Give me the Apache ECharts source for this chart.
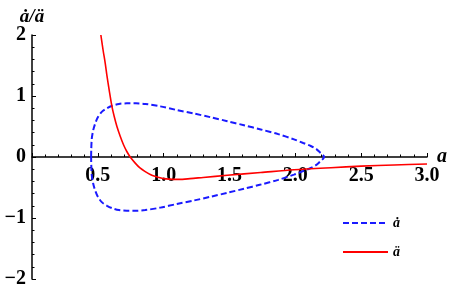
<!DOCTYPE html>
<html>
<head>
<meta charset="utf-8">
<script src="https://cdn.jsdelivr.net/npm/echarts@6/dist/echarts.min.js"></script>
<style>
html,body{margin:0;padding:0;background:#fff;}
#chart{width:449px;height:295px;}
</style>
</head>
<body>
<div id="chart"></div>
<script>
// ---- data ----
const xTicks = [0, 0.5, 1.0, 1.5, 2.0, 2.5, 3.0];
const yTicks = [-2, -1, 0, 1, 2];
const seriesNames = ['ȧ', 'ä'];

// ȧ (blue dashed loop): upper branch, left to right
const adotUpperA = [0.449, 0.450, 0.454, 0.465, 0.480, 0.500, 0.530, 0.570, 0.610, 0.660, 0.720, 0.790, 0.860, 0.975, 1.100, 1.229, 1.360, 1.483, 1.610, 1.737, 1.870, 1.990, 2.060, 2.117, 2.160, 2.190, 2.210, 2.219];
const adotUpperY = [0.000, 0.120, 0.300, 0.440, 0.550, 0.650, 0.740, 0.800, 0.840, 0.870, 0.880, 0.880, 0.870, 0.830, 0.770, 0.713, 0.650, 0.587, 0.520, 0.452, 0.375, 0.289, 0.230, 0.180, 0.130, 0.070, 0.030, 0.000];
// ȧ lower branch, right to left
const adotLowerA = [2.219, 2.210, 2.190, 2.160, 2.117, 2.060, 1.990, 1.870, 1.737, 1.610, 1.483, 1.360, 1.229, 1.100, 0.975, 0.860, 0.790, 0.720, 0.660, 0.610, 0.570, 0.530, 0.500, 0.480, 0.465, 0.454, 0.450, 0.449];
const adotLowerY = [0.000, -0.030, -0.070, -0.130, -0.180, -0.230, -0.289, -0.375, -0.452, -0.520, -0.587, -0.650, -0.713, -0.770, -0.830, -0.870, -0.880, -0.880, -0.870, -0.840, -0.800, -0.740, -0.650, -0.550, -0.440, -0.300, -0.120, 0.000];

// ä (red solid)
const addotA = [0.523, 0.540, 0.556, 0.570, 0.586, 0.607, 0.625, 0.645, 0.670, 0.695, 0.720, 0.746, 0.784, 0.820, 0.860, 0.910, 0.962, 1.000, 1.076, 1.114, 1.200, 1.300, 1.483, 1.737, 1.990, 2.270, 2.500, 2.750, 3.000];
const addotY = [2.000, 1.750, 1.540, 1.320, 1.100, 0.830, 0.660, 0.500, 0.340, 0.200, 0.090, 0.000, -0.100, -0.180, -0.240, -0.300, -0.335, -0.355, -0.367, -0.367, -0.355, -0.335, -0.300, -0.255, -0.210, -0.175, -0.150, -0.130, -0.115];

// ---- build ----
const zip = (xs, ys) => xs.map((x, i) => [x, ys[i]]);
const adotData = zip(adotUpperA, adotUpperY).concat(zip(adotLowerA, adotLowerY).slice(1));
const addotData = zip(addotA, addotY);

const W = 449, H = 295, G = {left: 32, right: 22, top: 35, bottom: 16};
const zeroOffset = -(H - G.top - G.bottom) * (0 - yTicks[0]) / (yTicks[yTicks.length - 1] - yTicks[0]);

const serif = 'Liberation Serif, DejaVu Serif, serif';
const chart = echarts.init(document.getElementById('chart'), null, {renderer: 'canvas'});
chart.setOption({
  animation: false,
  backgroundColor: '#fff',
  grid: Object.assign({containLabel: false, outerBoundsMode: 'none'}, G),
  xAxis: {
    type: 'value', position: 'bottom', offset: zeroOffset,
    min: xTicks[0], max: xTicks[xTicks.length - 1], interval: 0.5,
    name: 'a', nameLocation: 'end', nameGap: 15, nameMoveOverlap: false,
    nameTextStyle: {fontFamily: serif, fontStyle: 'italic', fontWeight: 'bold', fontSize: 20, color: '#000', align: 'center', verticalAlign: 'middle', padding: [3, 0, 0, 0]},
    axisLine: {onZero: false, lineStyle: {color: '#000', width: 1.5}},
    axisTick: {show: true, inside: true, length: 4, lineStyle: {color: '#000', width: 1}},
    minorTick: {show: true, splitNumber: 5, length: 2.5, lineStyle: {color: '#000', width: 1}},
    splitLine: {show: false},
    axisLabel: {
      margin: 9, fontFamily: serif, fontWeight: 'bold', fontSize: 20, color: '#000',
      formatter: v => (v === 0 ? '' : v.toFixed(1))
    }
  },
  yAxis: {
    type: 'value',
    min: yTicks[0], max: yTicks[yTicks.length - 1], interval: 1,
    name: 'ȧ/ä', nameLocation: 'end', nameGap: 8, nameMoveOverlap: false,
    nameTextStyle: {fontFamily: serif, fontStyle: 'italic', fontWeight: 'bold', fontSize: 19, color: '#000', align: 'center'},
    axisLine: {show: true, onZero: false, lineStyle: {color: '#000', width: 1.5}},
    axisTick: {show: true, inside: true, length: 4, lineStyle: {color: '#000', width: 1}},
    minorTick: {show: true, splitNumber: 5, length: 2.5, lineStyle: {color: '#000', width: 1}},
    splitLine: {show: false},
    axisLabel: {
      margin: 6, fontFamily: serif, fontWeight: 'bold', fontSize: 20, color: '#000',
      formatter: v => (v < 0 ? '\u2212' + Math.abs(v) : String(v))
    }
  },
  legend: {
    orient: 'vertical', left: 337, top: 211,
    itemWidth: 45, itemHeight: 14, itemGap: 15,
    data: seriesNames,
    itemStyle: {opacity: 0, color: 'rgba(0,0,0,0)', borderWidth: 0},
    textStyle: {fontFamily: serif, fontStyle: 'italic', fontWeight: 'bold', fontSize: 14, color: '#000'}
  },
  series: [
    {
      name: seriesNames[0], type: 'line', data: adotData, symbol: 'none', smooth: 0.3,
      lineStyle: {color: '#1a1aff', width: 2, type: [6, 3]}, itemStyle: {color: '#1a1aff'}
    },
    {
      name: seriesNames[1], type: 'line', data: addotData, symbol: 'none', smooth: 0.3,
      lineStyle: {color: '#ff0000', width: 1.6}, itemStyle: {color: '#ff0000'}
    }
  ]
});
</script>
</body>
</html>
